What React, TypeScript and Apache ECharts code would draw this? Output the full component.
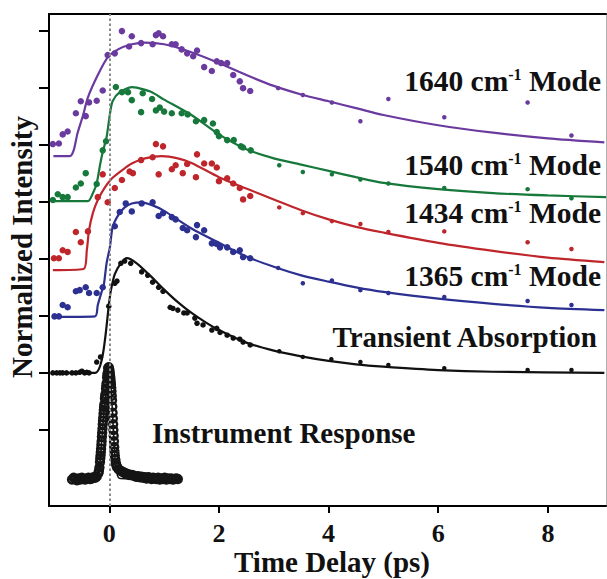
import React, { useEffect, useRef } from "react";
import * as echarts from "echarts";

// ---------- axis ticks ----------
const timeTicks = [0, 2, 4, 6, 8];
const offsetTicks = [1, 2, 3, 4, 5, 6, 7, 8];

// ---------- 1640 cm-1 mode (purple) ----------
const purpleX = [-1.03, -0.92, -0.85, -0.76, -0.61, -0.52, -0.43, -0.37, -0.23, -0.12, -0.03, 0.10, 0.23, 0.41, 0.36, 0.58, 0.79, 0.85, 0.90, 0.98, 1.14, 1.21, 1.32, 1.42, 1.53, 1.60, 1.73, 1.87, 1.96, 2.04, 2.15, 2.26, 2.38, 2.44, 2.57, 3.08, 3.53, 4.06, 4.58, 5.09, 6.11, 7.63, 8.43];
const purpleY = [6.01, 6.02, 6.18, 6.23, 6.55, 6.76, 6.50, 6.74, 6.77, 6.95, 7.57, 7.60, 7.99, 7.90, 7.72, 7.78, 7.76, 7.92, 7.95, 7.90, 7.76, 7.76, 7.67, 7.60, 7.55, 7.65, 7.36, 7.29, 7.46, 7.43, 7.43, 7.22, 7.11, 6.99, 6.94, 6.99, 6.87, 6.74, 6.41, 6.80, 6.48, 6.74, 6.16];
const purpleFitX = [-1.02, -0.72, -0.65, -0.58, -0.48, -0.39, -0.21, -0.03, 0.16, 0.41, 0.65, 1.0, 1.5, 2.0, 2.5, 3.0, 3.5, 4.0, 4.5, 5.0, 6.0, 7.0, 8.0, 9.03];
const purpleFitY = [5.80, 5.80, 5.90, 6.20, 6.51, 6.83, 7.22, 7.53, 7.67, 7.76, 7.79, 7.76, 7.62, 7.43, 7.22, 7.03, 6.88, 6.76, 6.64, 6.52, 6.34, 6.21, 6.11, 6.04];

// ---------- 1540 cm-1 mode (green) ----------
const greenX = [-1.03, -0.94, -0.85, -0.76, -0.61, -0.52, -0.43, -0.23, -0.12, -0.06, 0.12, 0.23, 0.34, 0.41, 0.58, 0.61, 0.78, 0.85, 0.92, 1.00, 1.14, 1.32, 1.43, 1.58, 1.73, 1.89, 1.96, 2.00, 2.15, 2.27, 2.40, 2.44, 2.58, 3.10, 3.53, 4.06, 4.58, 5.09, 6.11, 7.63, 8.43];
const greenY = [5.03, 5.13, 5.08, 5.08, 5.25, 5.32, 5.50, 5.31, 5.90, 6.06, 7.01, 6.92, 6.92, 6.78, 6.57, 6.90, 6.80, 6.60, 6.65, 6.58, 6.55, 6.55, 6.53, 6.41, 6.43, 6.37, 6.22, 6.15, 6.08, 6.08, 5.97, 5.95, 5.90, 5.64, 5.52, 5.48, 5.39, 5.32, 5.24, 5.22, 5.06];
const greenFitX = [-1.03, -0.39, -0.30, -0.23, -0.17, -0.12, -0.05, 0.01, 0.06, 0.19, 0.41, 0.5, 0.75, 1.0, 1.5, 2.0, 2.5, 3.0, 3.5, 4.0, 4.5, 5.0, 6.0, 7.0, 8.0, 9.06];
const greenFitY = [5.01, 5.01, 5.15, 5.32, 5.64, 5.87, 6.13, 6.53, 6.76, 6.92, 7.01, 7.00, 6.93, 6.79, 6.52, 6.18, 5.92, 5.76, 5.65, 5.54, 5.43, 5.33, 5.22, 5.15, 5.11, 5.08];

// ---------- 1434 cm-1 mode (red) ----------
const redX = [-1.01, -0.92, -0.85, -0.76, -0.61, -0.52, -0.39, -0.21, -0.12, -0.03, 0.10, 0.23, 0.37, 0.43, 0.58, 0.79, 0.85, 0.90, 0.98, 1.14, 1.21, 1.34, 1.42, 1.60, 1.58, 1.73, 1.87, 1.96, 2.00, 2.15, 2.26, 2.38, 2.44, 2.57, 3.10, 3.53, 4.06, 4.58, 5.09, 6.11, 7.63, 8.43];
const redY = [4.01, 4.01, 4.15, 4.12, 4.47, 4.29, 4.48, 5.08, 5.48, 4.99, 5.24, 5.38, 5.53, 5.50, 5.73, 5.78, 6.01, 5.48, 5.97, 5.57, 5.64, 5.50, 5.66, 5.83, 5.43, 5.67, 5.67, 5.60, 5.36, 5.41, 5.32, 5.24, 5.04, 5.10, 4.90, 4.80, 4.66, 4.61, 4.47, 4.48, 4.29, 4.17];
const redFitX = [-1.03, -0.47, -0.41, -0.37, -0.30, -0.21, -0.08, 0.05, 0.23, 0.41, 0.65, 0.96, 1.25, 1.5, 2.0, 2.5, 3.0, 3.5, 4.0, 4.5, 5.0, 6.0, 7.0, 8.0, 9.03];
const redFitY = [3.80, 3.82, 4.15, 4.50, 4.80, 5.03, 5.25, 5.41, 5.55, 5.67, 5.76, 5.80, 5.76, 5.68, 5.43, 5.23, 5.04, 4.85, 4.69, 4.56, 4.46, 4.28, 4.14, 4.02, 3.94];

// ---------- 1365 cm-1 mode (blue) ----------
const blueX = [-1.00, -0.92, -0.85, -0.76, -0.61, -0.54, -0.43, -0.37, -0.23, -0.12, 0.10, 0.19, 0.30, 0.41, 0.59, 0.79, 0.90, 0.98, 1.14, 1.21, 1.34, 1.42, 1.58, 1.60, 1.73, 1.87, 1.96, 2.02, 2.15, 2.26, 2.38, 2.44, 2.57, 3.08, 3.53, 4.06, 4.58, 5.09, 6.11, 7.63, 8.43];
const blueY = [2.99, 2.99, 3.19, 3.15, 3.43, 3.45, 3.50, 3.40, 3.40, 3.50, 4.57, 4.82, 4.97, 4.83, 4.97, 4.99, 4.75, 4.80, 4.73, 4.69, 4.54, 4.50, 4.38, 4.59, 4.50, 4.27, 4.26, 4.20, 4.20, 4.12, 4.15, 4.03, 4.01, 3.84, 3.57, 3.62, 3.45, 3.40, 3.33, 3.26, 3.19];
const blueFitX = [-1.03, -0.26, -0.21, -0.14, -0.10, -0.05, 0.01, 0.06, 0.16, 0.28, 0.41, 0.59, 0.78, 1.0, 1.5, 2.0, 2.5, 3.0, 3.5, 4.0, 4.5, 5.0, 6.0, 7.0, 8.0, 9.03];
const blueFitY = [2.98, 2.99, 3.19, 3.42, 3.54, 3.92, 4.20, 4.55, 4.76, 4.90, 4.97, 4.99, 4.94, 4.84, 4.53, 4.28, 4.04, 3.86, 3.71, 3.60, 3.50, 3.42, 3.30, 3.21, 3.14, 3.10];

// ---------- Transient absorption (black) ----------
const taX = [-1.03, -0.96, -0.90, -0.85, -0.78, -0.68, -0.61, -0.54, -0.50, -0.45, -0.41, -0.37, -0.23, -0.16, -0.01, 0.10, 0.14, 0.21, 0.28, 0.39, 0.59, 0.70, 0.79, 0.90, 0.98, 1.11, 1.16, 1.25, 1.36, 1.42, 1.56, 1.60, 1.71, 1.87, 1.96, 2.02, 2.15, 2.26, 2.38, 2.44, 2.57, 3.10, 3.53, 4.05, 4.58, 5.09, 6.11, 7.63, 8.43];
const taY = [2.00, 2.00, 2.00, 2.00, 2.00, 2.00, 2.00, 2.01, 2.03, 2.00, 2.01, 2.00, 2.19, 2.28, 3.17, 3.57, 3.61, 3.92, 3.96, 3.92, 3.77, 3.71, 3.59, 3.50, 3.43, 3.15, 3.13, 3.10, 3.05, 3.05, 2.96, 2.87, 2.84, 2.75, 2.78, 2.71, 2.66, 2.61, 2.59, 2.54, 2.49, 2.38, 2.28, 2.24, 2.19, 2.14, 2.08, 2.05, 2.05];
const taFitX = [-1.03, -0.26, 0.03, 0.10, 0.21, 0.32, 0.5, 0.75, 1.0, 1.25, 1.5, 1.75, 2.0, 2.5, 3.0, 3.5, 4.0, 4.5, 5.0, 6.0, 7.0, 9.03];
const taFitY = [2.00, 2.00, 3.45, 3.73, 3.92, 4.01, 3.92, 3.70, 3.46, 3.24, 3.05, 2.89, 2.75, 2.53, 2.39, 2.29, 2.21, 2.15, 2.11, 2.05, 2.02, 2.00];

// ---------- Instrument response (open circles) ----------
const irX = [-0.68, -0.65, -0.62, -0.59, -0.56, -0.53, -0.50, -0.47, -0.44, -0.41, -0.38, -0.35, -0.32, -0.29, -0.26, -0.23,
  -0.20, -0.19, -0.18, -0.17, -0.16, -0.15, -0.14, -0.13, -0.12, -0.11, -0.10, -0.09, -0.08, -0.07, -0.06, -0.05, -0.04, -0.03, -0.02, -0.01,
  0.00, 0.01, 0.02, 0.03, 0.04, 0.05, 0.06, 0.07, 0.08, 0.09, 0.10, 0.11, 0.12, 0.13, 0.14,
  0.17, 0.20, 0.23, 0.26, 0.29, 0.32, 0.35, 0.38, 0.41, 0.44, 0.47, 0.50, 0.53, 0.56, 0.59, 0.62, 0.65, 0.68, 0.71, 0.74, 0.77, 0.80, 0.83, 0.86, 0.89, 0.92, 0.95, 0.98, 1.01, 1.04, 1.07, 1.10, 1.13, 1.16, 1.19, 1.22, 1.25];
const irY = [0.13, 0.16, 0.14, 0.12, 0.15, 0.13, 0.16, 0.14, 0.13, 0.15, 0.16, 0.14, 0.15, 0.17, 0.16, 0.18,
  0.24, 0.28, 0.34, 0.44, 0.55, 0.67, 0.80, 0.95, 1.10, 1.22, 1.35, 1.45, 1.55, 1.63, 1.72, 1.82, 1.92, 2.00, 2.08, 2.10,
  2.06, 1.98, 1.90, 1.80, 1.68, 1.52, 1.30, 1.10, 0.90, 0.70, 0.55, 0.48, 0.42, 0.38, 0.35,
  0.31, 0.29, 0.27, 0.26, 0.24, 0.23, 0.22, 0.21, 0.21, 0.20, 0.19, 0.18, 0.19, 0.17, 0.18, 0.16, 0.17, 0.15, 0.17, 0.16, 0.14, 0.16, 0.15, 0.14, 0.16, 0.13, 0.15, 0.14, 0.16, 0.13, 0.15, 0.14, 0.15, 0.13, 0.14, 0.15, 0.14];
// extra samples on the steep edges of the response peak
const irEdgeX = [-0.165, -0.155, -0.145, -0.135, -0.125, -0.115, -0.105, -0.095, -0.075, -0.055, -0.035, -0.015, 0.005, 0.015, 0.025, 0.035, 0.045, 0.055, 0.065, 0.075, 0.085, 0.095];
const irEdgeY = [0.50, 0.61, 0.74, 0.88, 1.02, 1.16, 1.29, 1.40, 1.59, 1.77, 1.96, 2.09, 2.02, 1.94, 1.85, 1.74, 1.60, 1.41, 1.20, 1.00, 0.80, 0.62];
const irFitX = [-0.68, -0.22, -0.17, -0.12, -0.07, -0.03, -0.01, 0.02, 0.05, 0.08, 0.11, 0.15, 0.20, 1.25];
const irFitY = [0.14, 0.15, 0.45, 1.05, 1.60, 2.00, 2.08, 1.90, 1.45, 0.90, 0.45, 0.20, 0.15, 0.14];

// ---------- labels ----------
const modeLabels = ["1640", "1540", "1434", "1365"];
const taLabel = "Transient Absorption";
const irLabel = "Instrument Response";
const xTitle = "Time Delay (ps)";
const yTitle = "Normalized Intensity";

const FONT = '"Liberation Serif", "Times New Roman", Times, serif';
const TEXT = "#111";

const zip = (xs: number[], ys: number[]) => xs.map((x, i) => [x, ys[i]]);

const traces = [
  { name: "1640", color: "#6a3a9e", px: purpleX, py: purpleY, fx: purpleFitX, fy: purpleFitY, big: 6.5, small: 4.5 },
  { name: "1540", color: "#16783a", px: greenX, py: greenY, fx: greenFitX, fy: greenFitY, big: 6.5, small: 4.5 },
  { name: "1434", color: "#bf262c", px: redX, py: redY, fx: redFitX, fy: redFitY, big: 6.5, small: 4.5 },
  { name: "1365", color: "#2c3090", px: blueX, py: blueY, fx: blueFitX, fy: blueFitY, big: 6.5, small: 4.5 },
  { name: "TA", color: "#111111", px: taX, py: taY, fx: taFitX, fy: taFitY, big: 5.5, small: 4.5 },
];

const modeLabelY = [81, 165, 213, 276];

export default function App() {
  const ref = useRef<HTMLDivElement>(null);

  useEffect(() => {
    if (!ref.current) return;
    const chart = echarts.init(ref.current, undefined, { renderer: "svg" });

    const series: any[] = [];
    traces.forEach((t) => {
      series.push({
        type: "line",
        data: zip(t.fx, t.fy),
        showSymbol: false,
        smooth: 0.25,
        lineStyle: { color: t.color, width: 2.2 },
        z: 2,
        silent: true,
      });
      series.push({
        type: "scatter",
        data: zip(t.px, t.py),
        symbol: "circle",
        symbolSize: (v: number[]) => (v[0] > 2.9 ? t.small : t.big),
        itemStyle: { color: t.color, opacity: 1 },
        z: 3,
        silent: true,
      });
    });
    series.push({
      type: "line",
      data: zip(irFitX, irFitY),
      showSymbol: false,
      smooth: 0.3,
      lineStyle: { color: "#111", width: 1.5 },
      z: 2,
      silent: true,
    });
    series.push({
      type: "scatter",
      data: [...zip(irX, irY), ...zip(irEdgeX, irEdgeY)],
      symbol: "circle",
      symbolSize: 8,
      itemStyle: { color: "rgba(0,0,0,0)", borderColor: "#151515", borderWidth: 2.4, opacity: 1 },
      z: 3,
      silent: true,
    });
    series.push({
      type: "line",
      data: [],
      z: 6,
      silent: true,
      markLine: {
        silent: true,
        symbol: ["none", "none"],
        label: { show: false },
        lineStyle: { color: "#8a8a8a", width: 2, type: [2.5, 2.5] },
        data: [{ xAxis: 0 }],
        animation: false,
      },
    });

    const modeText = (m: string, y: number) => ({
      type: "text",
      x: 601,
      y,
      z: 10,
      style: {
        text: `{a|${m} cm}{b|-1}{a| Mode}`,
        align: "right",
        verticalAlign: "middle",
        textAlign: "right",
        textVerticalAlign: "middle",
        rich: {
          a: { fontSize: 29.5, fontWeight: "bold", fontFamily: FONT, fill: TEXT },
          b: { fontSize: 16, fontWeight: "bold", fontFamily: FONT, fill: TEXT, verticalAlign: "top" },
        },
      },
    });

    const plainText = (text: string, x: number, y: number, align: string, rotation = 0) => ({
      type: "text",
      x,
      y,
      rotation,
      z: 10,
      style: {
        text,
        align,
        verticalAlign: "middle",
        textAlign: align,
        textVerticalAlign: "middle",
        fontSize: 29,
        fontWeight: "bold",
        fontFamily: FONT,
        fill: TEXT,
      },
    });

    chart.setOption({
      animation: false,
      backgroundColor: "#ffffff",
      grid: { left: 49, right: 1, top: 14, bottom: 73, containLabel: false, outerBoundsMode: "none" },
      xAxis: [
        {
          type: "value",
          min: -1.1,
          max: 9.06,
          axisLine: { show: true, onZero: false, lineStyle: { color: "#000", width: 2 } },
          axisTick: { show: true, customValues: timeTicks, length: 7, inside: false, lineStyle: { color: "#000", width: 2 } },
          axisLabel: {
            show: true,
            customValues: timeTicks,
            fontSize: 26,
            fontWeight: "bold",
            fontFamily: FONT,
            color: TEXT,
            margin: 14,
          },
          splitLine: { show: false },
        },
        {
          type: "value",
          position: "top",
          min: -1.1,
          max: 9.06,
          axisLine: { show: true, onZero: false, lineStyle: { color: "#000", width: 2 } },
          axisTick: { show: false },
          axisLabel: { show: false },
          splitLine: { show: false },
        },
      ],
      yAxis: [
        {
          type: "value",
          min: -0.333,
          max: 8.29,
          axisLine: { show: true, onZero: false, lineStyle: { color: "#000", width: 2 } },
          axisTick: { show: true, customValues: offsetTicks, length: 10, inside: false, lineStyle: { color: "#000", width: 2 } },
          axisLabel: { show: false },
          splitLine: { show: false },
        },
        {
          type: "value",
          position: "right",
          min: -0.333,
          max: 8.29,
          axisLine: { show: true, onZero: false, lineStyle: { color: "#b0b0b0", width: 1 } },
          axisTick: { show: false },
          axisLabel: { show: false },
          splitLine: { show: false },
        },
      ],
      series,
      graphic: [
        ...modeLabels.map((m, i) => modeText(m, modeLabelY[i])),
        plainText(taLabel, 597, 337, "right"),
        plainText(irLabel, 152, 433, "left"),
        plainText(xTitle, 332, 562, "center"),
        plainText(yTitle, 22, 247, "center", Math.PI / 2),
      ],
    });

    return () => chart.dispose();
  }, []);

  return (
    <div
      ref={ref}
      style={{ position: "fixed", left: 0, top: 0, width: 607, height: 579, background: "#fff" }}
    />
  );
}
